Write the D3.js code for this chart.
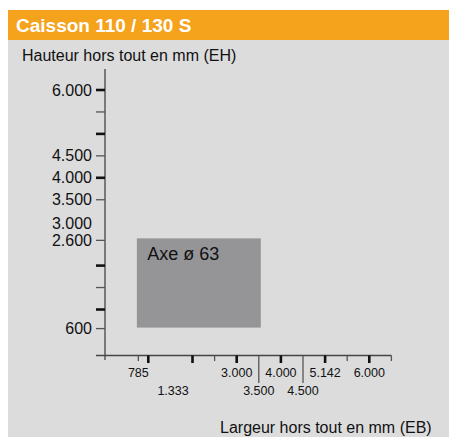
<!DOCTYPE html>
<html><head><meta charset="utf-8">
<script src="https://cdn.jsdelivr.net/npm/d3@7/dist/d3.min.js"></script>
<style>body{margin:0;background:#fff}svg{display:block;font-family:"Liberation Sans",Arial,sans-serif}</style>
</head><body>
<script>
// ---- data ----
const title = "Caisson 110 / 130 S";
const yTitle = "Hauteur hors tout en mm (EH)";
const xTitle = "Largeur hors tout en mm (EB)";

// labeled y values (mm) and their slot on the (non-linear) diagram axis
const yValues = [6000, 4500, 4000, 3500, 3000, 2600, 600];
const ySlots  = [0, 3, 4, 5, 6.1, 6.85, 10.87];
const yLabels = ["6.000", "4.500", "4.000", "3.500", "3.000", "2.600", "600"];
const yHasTick = [true, true, true, true, false, true, true];
// unlabeled y tick marks (slots) and weights
const yMinorSlots = [1, 2, 8, 9, 10];
const yMinorHeavy = [false, true, true, false, true];
const yLabeledHeavy = [true, false, true, false, false, false, false];

// labeled x values (mm)
const xValues = [785, 1333, 3000, 3500, 4000, 4500, 5142, 6000];
const xSlots  = [-0.45, 1.12, 4, 5, 6, 7, 8, 10];
const xLabels = ["785", "1.333", "3.000", "3.500", "4.000", "4.500", "5.142", "6.000"];
const xRows   = [1, 2, 1, 2, 1, 2, 1, 1];
const xHasTick = [true, false, true, true, true, true, true, true];
const xLabeledHeavy = [false, false, true, false, true, false, true, true];
const xLongTick = [false, false, false, true, false, true, false, false];
// unlabeled x tick marks
const xMinorSlots = [0, 2, 3, 9, 11];
const xMinorHeavy = [true, true, false, false, false];

// zone
const zones = [{label: "Axe ø 63", x0: 785, x1: 3500, y0: 600, y1: 2600}];

// ---- drawing ----
const W = 449, H = 437;
const svg = d3.select("body").append("svg").attr("width", W).attr("height", H);

svg.append("rect").attr("x", 8).attr("y", 40).attr("width", W - 8).attr("height", H - 40).attr("fill", "#dcdcdd");
svg.append("rect").attr("x", 8).attr("y", 10).attr("width", W - 8).attr("height", 30).attr("fill", "#f5a21d");
svg.append("text").attr("x", 16).attr("y", 32).attr("fill", "#fff").attr("font-weight", "bold")
  .attr("font-size", 19).text(title);
svg.append("text").attr("x", 22).attr("y", 61).attr("fill", "#111").attr("font-size", 16).text(yTitle);
svg.append("text").attr("x", 220).attr("y", 433).attr("fill", "#111").attr("font-size", 16).text(xTitle);

const xSlot = d3.scaleLinear().domain([0, 10]).range([148.3, 369.3]);
const xMap = d3.scaleLinear().domain(xValues).range(xSlots);
const x = v => xSlot(xMap(v));
const ySlot = d3.scaleLinear().domain([0, 10]).range([90, 309.5]);
const yMap = d3.scaleLinear().domain(yValues).range(ySlots);
const y = v => ySlot(yMap(v));

const axisX = 105, axisY = 355.5;

// zones
zones.forEach(z => {
  svg.append("rect").attr("x", x(z.x0) - 1.5).attr("y", y(z.y1) - 2)
    .attr("width", x(z.x1) - x(z.x0) + 3.5).attr("height", y(z.y0) - y(z.y1) + 1)
    .attr("fill", "#959598");
  svg.append("text").attr("x", x(z.x0) + 9).attr("y", y(z.y1) + 20).attr("font-size", 18)
    .attr("fill", "#111").text(z.label);
});

// axis lines
svg.append("line").attr("x1", axisX).attr("x2", axisX).attr("y1", 69).attr("y2", 360)
  .attr("stroke", "#444").attr("stroke-width", 1.3);
svg.append("line").attr("x1", 96).attr("x2", xSlot(11)).attr("y1", axisY).attr("y2", axisY)
  .attr("stroke", "#444").attr("stroke-width", 1.3);

const heavy = {stroke: "#111", w: 2.6}, light = {stroke: "#555", w: 1.3};

// y ticks
const yTickData = [];
yValues.forEach((v, i) => { if (yHasTick[i]) yTickData.push({pos: y(v), heavy: yLabeledHeavy[i]}); });
yMinorSlots.forEach((s, i) => yTickData.push({pos: ySlot(s), heavy: yMinorHeavy[i]}));
svg.selectAll(".yt").data(yTickData).enter().append("line")
  .attr("x1", 96).attr("x2", axisX).attr("y1", d => d.pos).attr("y2", d => d.pos)
  .attr("stroke", d => d.heavy ? heavy.stroke : light.stroke)
  .attr("stroke-width", d => d.heavy ? heavy.w : light.w);
svg.selectAll(".yl").data(yValues).enter().append("text")
  .attr("x", 92).attr("y", d => y(d)).attr("dy", "0.35em").attr("text-anchor", "end")
  .attr("font-size", 16).attr("fill", "#111").text((d, i) => yLabels[i]);

// x ticks
const xTickData = [];
xValues.forEach((v, i) => { if (xHasTick[i]) xTickData.push({pos: x(v), heavy: xLabeledHeavy[i], long: xLongTick[i]}); });
xMinorSlots.forEach((s, i) => xTickData.push({pos: xSlot(s), heavy: xMinorHeavy[i], long: false}));
svg.selectAll(".xt").data(xTickData).enter().append("line")
  .attr("x1", d => d.pos).attr("x2", d => d.pos).attr("y1", axisY)
  .attr("y2", d => d.long ? 383 : (d.heavy ? 363 : 361))
  .attr("stroke", d => d.heavy ? heavy.stroke : light.stroke)
  .attr("stroke-width", d => d.heavy ? heavy.w : light.w);
svg.selectAll(".xl").data(xValues).enter().append("text")
  .attr("x", d => x(d)).attr("y", (d, i) => xRows[i] === 1 ? 377 : 395).attr("text-anchor", "middle")
  .attr("font-size", 12.5).attr("fill", "#111").text((d, i) => xLabels[i]);
</script>
</body></html>
